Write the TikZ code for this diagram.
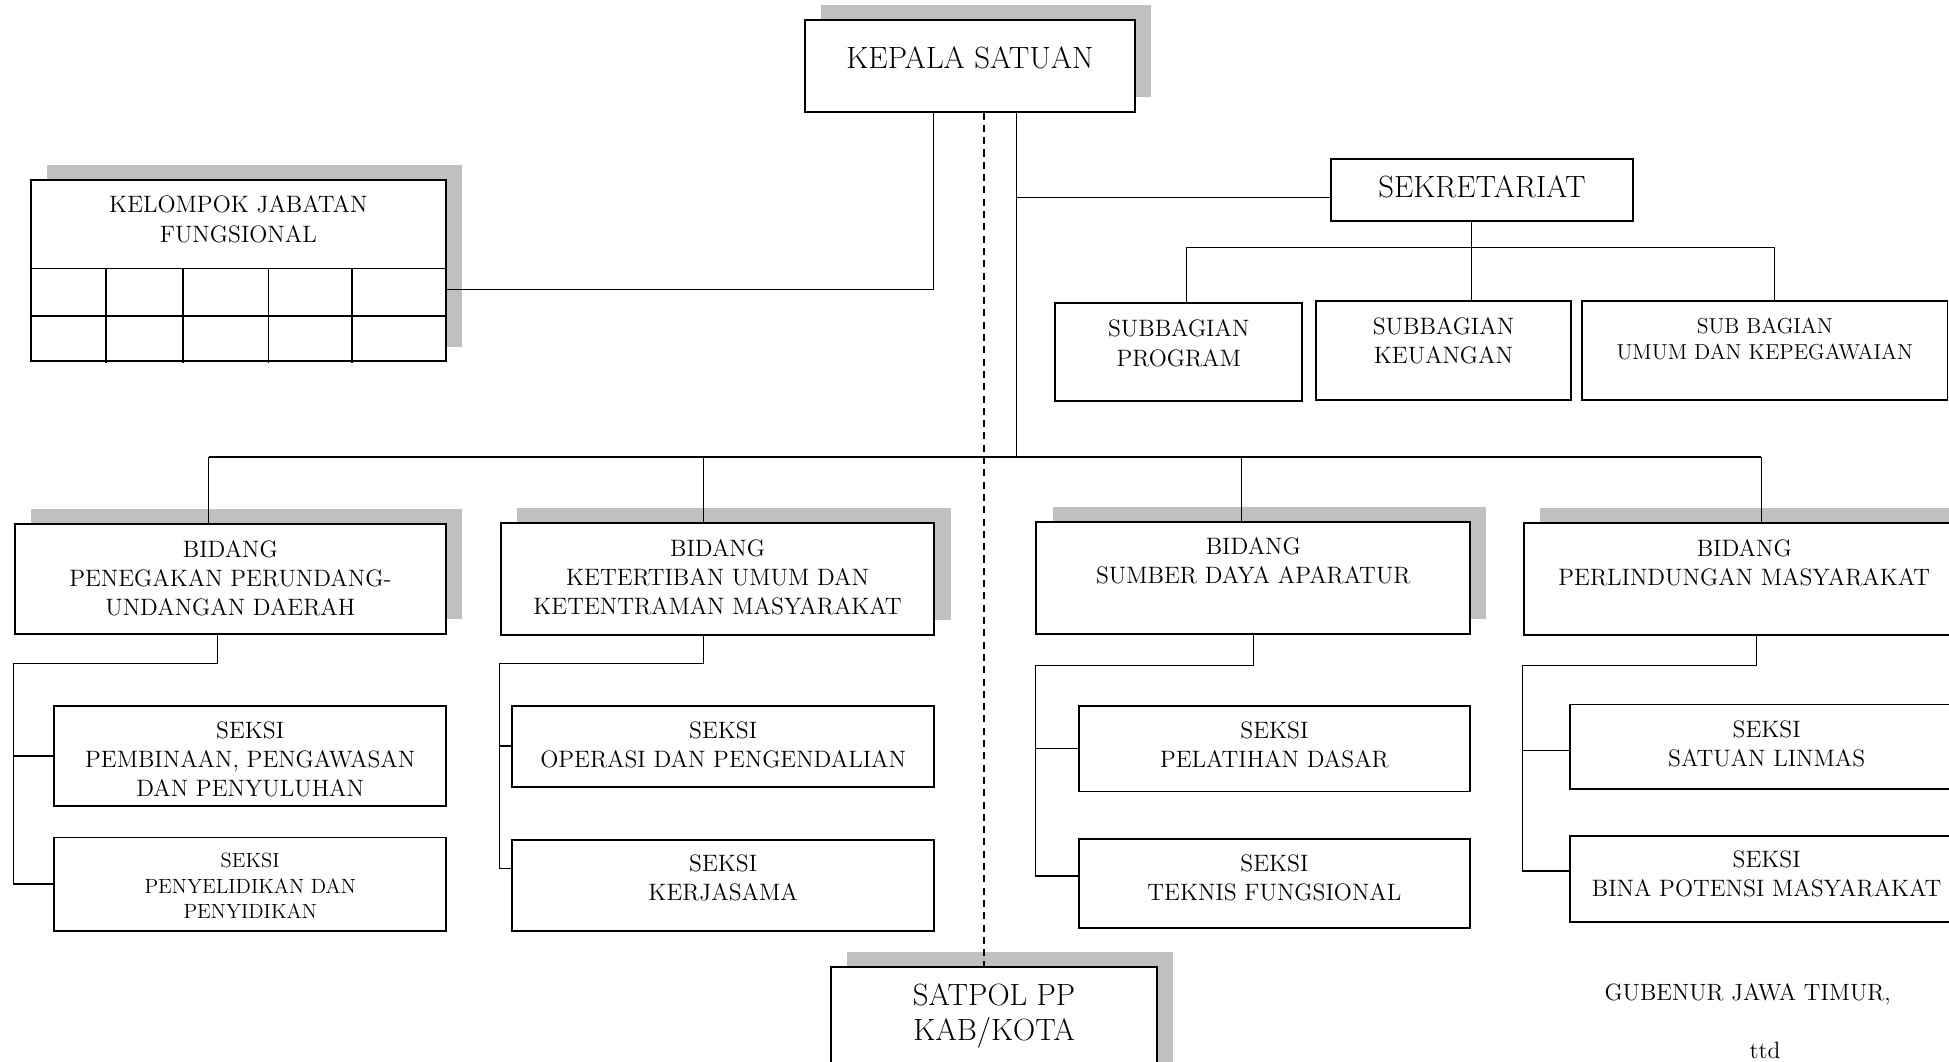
\documentclass[tikz,border=0pt]{standalone}
\usepackage{tikz}
\usetikzlibrary{shadows}

\definecolor{abu}{RGB}{192,192,192}
\newcommand{\px}{0.02486cm}
\newcommand{\hurufbesar}{\fontsize{17.5}{19.8}\selectfont}
\newcommand{\hurufsedang}{\fontsize{13.5}{16.6}\selectfont}
\newcommand{\hurufkecil}{\fontsize{12.3}{14.8}\selectfont}
\newcommand{\hurufmini}{\fontsize{11.7}{14.5}\selectfont}

\tikzset{
  kotak/.style={draw, line width=1.1pt, fill=white, anchor=north west, inner sep=0pt},
  bayang/.style={drop shadow={shadow xshift=13*\px, shadow yshift=12*\px, fill=abu, opacity=1}},
  teks/.style={anchor=north, align=center, inner sep=0pt, font=\hurufsedang},
  garis/.style={line width=0.8pt},
}

\begin{document}
\begin{tikzpicture}[x=\px, y=-\px]
\useasboundingbox (0,0) rectangle (1568,854);
\clip (0,0) rectangle (1568,854);

% pimpinan
\node[kotak, bayang, minimum width=265*\px, minimum height=74*\px,
  label={[teks, font=\hurufbesar, yshift=-15.9pt]north:KEPALA SATUAN}] (kepala) at (647,15) {};
\node[kotak, bayang, minimum width=334*\px, minimum height=146*\px,
  label={[teks, yshift=-9.5pt]north:{KELOMPOK JABATAN\\FUNGSIONAL}}] (kelompok) at (24,144) {};
\node[kotak, minimum width=243*\px, minimum height=50*\px,
  label={[teks, font=\hurufbesar, yshift=-10.2pt]north:SEKRETARIAT}] (sekr) at (1070,127) {};

% subbagian
\node[kotak, minimum width=199*\px, minimum height=79*\px,
  label={[teks, yshift=-10pt]north:{SUBBAGIAN\\PROGRAM}}] (sp) at (848,243) {};
\node[kotak, minimum width=205*\px, minimum height=80*\px,
  label={[teks, yshift=-10pt]north:{SUBBAGIAN\\KEUANGAN}}] (sk) at (1058,241) {};
\node[kotak, minimum width=294*\px, minimum height=80*\px,
  label={[teks, font=\hurufkecil, yshift=-10.6pt]north:{SUB BAGIAN\\UMUM DAN KEPEGAWAIAN}}] (su) at (1272,241) {};

% bidang
\node[kotak, bayang, minimum width=347*\px, minimum height=88*\px,
  label={[teks, yshift=-9.5pt]north:{BIDANG\\PENEGAKAN PERUNDANG-\\UNDANGAN DAERAH}}] (b1) at (11,421) {};
\node[kotak, bayang, minimum width=349*\px, minimum height=90*\px,
  label={[teks, yshift=-9.5pt]north:{BIDANG\\KETERTIBAN UMUM DAN\\KETENTRAMAN MASYARAKAT}}] (b2) at (402,420) {};
\node[kotak, bayang, minimum width=349*\px, minimum height=90*\px,
  label={[teks, yshift=-9.5pt]north:{BIDANG\\SUMBER DAYA APARATUR}}] (b3) at (833,419) {};
\node[kotak, bayang, minimum width=355*\px, minimum height=90*\px,
  label={[teks, yshift=-9.5pt]north:{BIDANG\\PERLINDUNGAN MASYARAKAT}}] (b4) at (1225,420) {};

% seksi
\node[kotak, minimum width=315*\px, minimum height=81*\px,
  label={[teks, yshift=-9.5pt]north:{SEKSI\\PEMBINAAN, PENGAWASAN\\DAN PENYULUHAN}}] (s1a) at (43,567) {};
\node[kotak, minimum width=315*\px, minimum height=75*\px,
  label={[teks, font=\hurufmini, yshift=-9.4pt]north:{SEKSI\\PENYELIDIKAN DAN\\PENYIDIKAN}}] (s1b) at (43,673) {};
\node[kotak, minimum width=340*\px, minimum height=65*\px,
  label={[teks, yshift=-9.5pt]north:{SEKSI\\OPERASI DAN PENGENDALIAN}}] (s2a) at (411,567) {};
\node[kotak, minimum width=340*\px, minimum height=73*\px,
  label={[teks, yshift=-8.8pt]north:{SEKSI\\KERJASAMA}}] (s2b) at (411,675) {};
\node[kotak, minimum width=315*\px, minimum height=69*\px,
  label={[teks, yshift=-9.5pt]north:{SEKSI\\PELATIHAN DASAR}}] (s3a) at (867,567) {};
\node[kotak, minimum width=315*\px, minimum height=72*\px,
  label={[teks, yshift=-9.5pt]north:{SEKSI\\TEKNIS FUNGSIONAL}}] (s3b) at (867,674) {};
\node[kotak, minimum width=317*\px, minimum height=68*\px,
  label={[teks, yshift=-9.5pt]north:{SEKSI\\SATUAN LINMAS}}] (s4a) at (1262,566) {};
\node[kotak, minimum width=317*\px, minimum height=69*\px,
  label={[teks, yshift=-8.8pt]north:{SEKSI\\BINA POTENSI MASYARAKAT}}] (s4b) at (1262,672) {};

% satpol kab/kota
\node[kotak, bayang, minimum width=262*\px, minimum height=120*\px,
  label={[teks, font=\hurufbesar, yshift=-10.2pt]north:{SATPOL PP\\KAB/KOTA}}] (satpol) at (668,777) {};

\node[font=\fontsize{13.4}{15}\selectfont, inner sep=0pt] (gub) at (1406,800) {GUBENUR JAWA TIMUR,};
\node[font=\fontsize{13.4}{15}\selectfont, inner sep=0pt, anchor=north] (ttd) at (1420,838) {ttd};

% tabel jabatan fungsional
\draw[line width=1.1pt] (kelompok.west |- 0,216) -- (kelompok.east |- 0,216);
\draw[line width=1.1pt] (kelompok.west |- 0,254) -- (360,254);
\foreach \x in {85,147,216,283}
  \draw[line width=1.1pt] (\x,216) -- (\x,292);

% garis dari kepala
\coordinate (kpkiri) at ([xshift=-29.5*\px]kepala.south);
\coordinate (kptengah) at ([xshift=11.5*\px]kepala.south);
\coordinate (kpkanan) at ([xshift=37.5*\px]kepala.south);
\coordinate (rel) at (0,368);
\coordinate (relsek) at (0,199);

\draw[garis] (kpkiri) |- ([yshift=-15*\px]kelompok.east);
\draw[garis] (kpkanan) -- (kpkanan |- rel);
\draw[garis] ([yshift=-6*\px]sekr.west) -| (kpkanan);
\draw[garis, dash pattern=on 4pt off 3pt] (kptengah) -- (kptengah |- satpol.north);

% sekretariat ke subbagian
\coordinate (ts) at ([xshift=-8.5*\px]sekr.south);
\coordinate (tp) at ([xshift=6.5*\px]sp.north);
\coordinate (tk) at ([xshift=22.5*\px]sk.north);
\coordinate (tu) at ([xshift=8*\px]su.north);
\draw[garis] (ts) -- (ts |- relsek);
\draw[garis] (tp) |- (tu |- relsek) -- (tu);
\draw[garis] (tk) -- (tk |- relsek);

% ke bidang
\coordinate (t1) at ([xshift=-17.5*\px]b1.north);
\coordinate (t2) at ([xshift=-11.5*\px]b2.north);
\coordinate (t3) at ([xshift=-9.5*\px]b3.north);
\coordinate (t4) at ([xshift=192*\px]b4.north west);
\draw[line width=1.1pt] (t1 |- rel) -- (t4 |- rel);
\foreach \t in {t1,t2,t3,t4}
  \draw[garis] (\t |- rel) -- (\t);

% bidang ke seksi
\coordinate (d1) at ([xshift=-10.5*\px]b1.south);
\draw[garis] (d1) -- ++(0,23) -| (b1.west |- s1b.west) -- (s1b.west);
\draw[garis] (b1.west |- s1a.west) -- (s1a.west);

\coordinate (d2) at ([xshift=-11.5*\px]b2.south);
\coordinate (c2) at ([yshift=13.5*\px]s2b.west);
\draw[garis] (d2) -- ++(0,22) -| (b2.west |- c2) -- (c2);
\draw[garis] (b2.west |- s2a.west) -- (s2a.west);

\coordinate (c3) at ([yshift=6*\px]s3b.west);
\draw[garis] (b3.south) -- ++(0,25) -| (b3.west |- c3) -- (c3);
\draw[garis] (b3.west |- s3a.west) -- (s3a.west);

\coordinate (d4) at ([xshift=188*\px]b4.south west);
\coordinate (a4) at ([yshift=-3*\px]s4a.west);
\coordinate (c4) at ([yshift=6.5*\px]s4b.west);
\draw[garis] (d4) -- ++(0,24) -| (b4.west |- c4) -- (c4);
\draw[garis] (b4.west |- a4) -- (a4);
\end{tikzpicture}
\end{document}
